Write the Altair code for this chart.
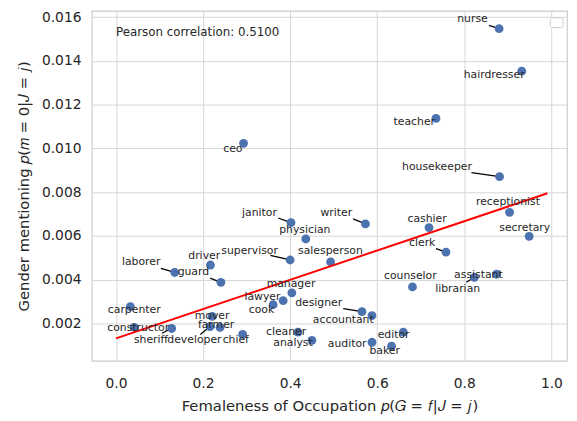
import altair as alt
import pandas as pd

# ---- data ----
occupations = ["nurse", "hairdresser", "teacher", "ceo", "housekeeper", "receptionist",
               "secretary", "writer", "cashier", "clerk", "assistant", "librarian",
               "counselor", "salesperson", "janitor", "physician", "supervisor", "driver",
               "laborer", "guard", "carpenter", "constructor", "sheriff", "mover", "farmer",
               "developer", "chief", "manager", "lawyer", "cook", "designer", "accountant",
               "cleaner", "analyst", "auditor", "baker", "editor"]
femaleness = [0.880, 0.932, 0.735, 0.293, 0.881, 0.904,
              0.949, 0.573, 0.719, 0.758, 0.874, 0.823,
              0.681, 0.493, 0.402, 0.436, 0.400, 0.217,
              0.135, 0.241, 0.033, 0.042, 0.128, 0.221, 0.239,
              0.216, 0.291, 0.404, 0.384, 0.361, 0.565, 0.588,
              0.418, 0.450, 0.588, 0.633, 0.660]
mentioning = [0.01547, 0.01353, 0.01137, 0.01023, 0.00871, 0.00708,
              0.00598, 0.00655, 0.00638, 0.00526, 0.00425, 0.00410,
              0.00367, 0.00481, 0.00661, 0.00586, 0.00490, 0.00467,
              0.00433, 0.00388, 0.00277, 0.00182, 0.00177, 0.00232, 0.00182,
              0.00186, 0.00150, 0.00340, 0.00304, 0.00286, 0.00254, 0.00236,
              0.00160, 0.00123, 0.00114, 0.00096, 0.00160]
# label anchor positions (data units), as placed by the original annotation
label_x = [0.8188, 0.8686, 0.6852, 0.2684, 0.7373, 0.9003,
           0.9388, 0.5062, 0.7146, 0.7033, 0.8324, 0.7848,
           0.6761, 0.4926, 0.3296, 0.4338, 0.3069, 0.2027,
           0.0578, 0.1778, 0.0419, 0.0510, 0.0804, 0.2208, 0.2299,
           0.1801, 0.2752, 0.4020, 0.3364, 0.3341, 0.4655, 0.5221,
           0.3907, 0.4066, 0.5311, 0.6172, 0.6376]
label_y = [0.01592, 0.01335, 0.01119, 0.00997, 0.00916, 0.00754,
           0.00637, 0.00705, 0.00678, 0.00569, 0.00421, 0.00358,
           0.00416, 0.00529, 0.00705, 0.00628, 0.00533, 0.00506,
           0.00479, 0.00434, 0.00259, 0.00177, 0.00123, 0.00232, 0.00191,
           0.00123, 0.00123, 0.00380, 0.00322, 0.00263, 0.00295, 0.00214,
           0.00159, 0.00110, 0.00105, 0.00074, 0.00146]
# leader lines: from the label edge to the point
leader_names = ["nurse", "housekeeper", "writer", "clerk", "librarian", "janitor",
                "supervisor", "laborer", "guard", "sheriff", "developer", "designer"]
leader_x = [0.8566, 0.8165, 0.5447, 0.7350, 0.8045, 0.3726,
            0.3545, 0.1031, 0.2163, 0.1053, 0.1937, 0.5221]
leader_y = [0.01562, 0.00889, 0.00678, 0.00542, 0.00388, 0.00682,
            0.00511, 0.00452, 0.00407, 0.00155, 0.00150, 0.00268]
# fitted regression line end points
fit_x = [0.0, 0.991]
fit_y = [0.00132, 0.00795]
pearson_text = "Pearson correlation: 0.5100"
x_ticks = [0.0, 0.2, 0.4, 0.6, 0.8, 1.0]
y_ticks = [0.002, 0.004, 0.006, 0.008, 0.010, 0.012, 0.014, 0.016]

# ---- tables ----
pts = pd.DataFrame({"occ": occupations, "x": femaleness, "y": mentioning,
                    "lx": label_x, "ly": label_y})
pos = {o: (a, b) for o, a, b in zip(occupations, femaleness, mentioning)}
lead = pd.DataFrame({"occ": leader_names, "x": leader_x, "y": leader_y,
                     "x2": [pos[n][0] for n in leader_names],
                     "y2": [pos[n][1] for n in leader_names]})
fit = pd.DataFrame({"x": fit_x, "y": fit_y})
ann = pd.DataFrame({"x": [0.0], "y": [0.0153], "t": [pearson_text]})

FONT = "DejaVu Sans"
TXT = "#262626"

xs = alt.Scale(domain=[-0.0555, 1.036], nice=False, zero=False)
ys = alt.Scale(domain=[0.000288, 0.016284], nice=False, zero=False)

xaxis = alt.Axis(values=x_ticks, format=".1f", title="Femaleness of Occupation 𝑝(𝐺 = 𝑓|𝐽 = 𝑗)",
                 labelPadding=16, titlePadding=8)
yaxis = alt.Axis(values=y_ticks, format=".3f", title="Gender mentioning 𝑝(𝑚 = 0|𝐽 = 𝑗)",
                 labelPadding=11, titlePadding=10)

points = alt.Chart(pts).mark_circle(size=80, color="#4c72b0", opacity=1).encode(
    x=alt.X("x:Q", scale=xs, axis=xaxis),
    y=alt.Y("y:Q", scale=ys, axis=yaxis),
)

leaders = alt.Chart(lead).mark_rule(color="black", strokeWidth=1.3).encode(
    x=alt.X("x:Q", scale=xs), y=alt.Y("y:Q", scale=ys),
    x2="x2:Q", y2="y2:Q",
)

line = alt.Chart(fit).mark_line(color="red", strokeWidth=2).encode(
    x=alt.X("x:Q", scale=xs), y=alt.Y("y:Q", scale=ys),
)

labels = alt.Chart(pts).mark_text(font=FONT, fontSize=11, color=TXT,
                                   align="center", baseline="middle").encode(
    x=alt.X("lx:Q", scale=xs), y=alt.Y("ly:Q", scale=ys), text="occ:N",
)

annot = alt.Chart(ann).mark_text(font=FONT, fontSize=12, color=TXT,
                                  align="left", baseline="middle").encode(
    x=alt.X("x:Q", scale=xs), y=alt.Y("y:Q", scale=ys), text="t:N",
)

legend_box = alt.Chart(pd.DataFrame({"k": [0]})).mark_rect(
    fill="white", stroke="#cccccc", strokeWidth=1, cornerRadius=2).encode(
    x=alt.value(465), x2=alt.value(478), y=alt.value(7), y2=alt.value(17),
)

chart = alt.layer(leaders, points, line, labels, annot, legend_box).properties(
    width=482, height=355,
    autosize=alt.AutoSizeParams(type="none"),
    padding={"left": 85, "top": 0, "right": 2, "bottom": 58},
).configure_view(
    stroke="#cccccc", strokeWidth=1.2,
).configure_axis(
    grid=True, gridColor="#d5d5d5", gridWidth=1, ticks=False, domain=False,
    labelFont=FONT, labelFontSize=14, labelColor=TXT,
    titleFont=FONT, titleFontSize=15, titleColor=TXT, titleFontWeight="normal",
)

chart.save("out.html", embed_options={"renderer": "svg", "actions": False})
